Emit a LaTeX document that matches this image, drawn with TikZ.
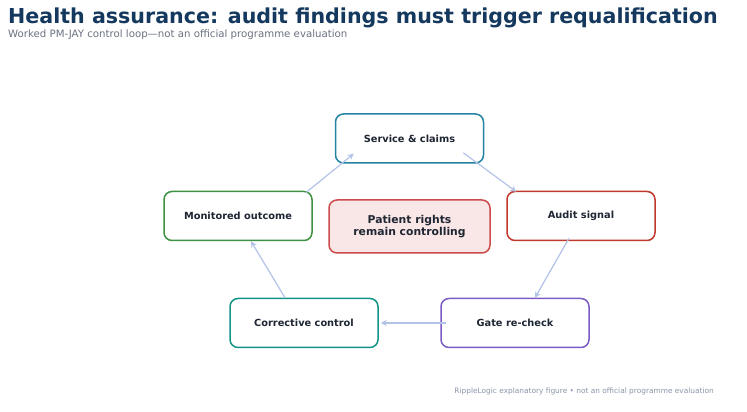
\documentclass[tikz,border=0pt]{standalone}
\usepackage{fontspec}
\setmainfont{DejaVu Sans}
\usetikzlibrary{arrows.meta,calc}
\definecolor{titlec}{HTML}{15395E}
\definecolor{subc}{HTML}{6B7280}
\definecolor{txtc}{HTML}{1F2633}
\definecolor{footc}{HTML}{8A94A8}
\definecolor{arrc}{HTML}{B3C3E8}
\definecolor{svcc}{HTML}{2383A0}
\definecolor{audc}{HTML}{C0392B}
\definecolor{gatec}{HTML}{7B5CC4}
\definecolor{corc}{HTML}{149488}
\definecolor{monc}{HTML}{3F9142}
\definecolor{patc}{HTML}{CC4B4B}
\definecolor{patfill}{HTML}{F9E6E6}
\tikzset{
  stagebox/.style={draw=#1, line width=1.5pt, rounded corners=8pt, fill=white,
    minimum width=148pt, minimum height=49pt, inner sep=0pt,
    font=\fontsize{9.8}{12}\selectfont\bfseries, text=txtc, align=center},
  flow/.style={draw=arrc, line width=1.2pt, -{Stealth[length=6pt,width=6pt]}},
}
\begin{document}
\begin{tikzpicture}[x=1pt,y=1pt]
\useasboundingbox[fill=white] (0,0) rectangle (747,412);
\node[anchor=base west, font=\fontsize{20.6}{24}\selectfont\bfseries, text=titlec, inner sep=0pt] (title) at (8,388.5) {Health assurance: audit findings must trigger requalification};
\node[anchor=base west, font=\fontsize{10.2}{12}\selectfont, text=subc, inner sep=0pt] (sub) at (8,374) {Worked PM-JAY control loop—not an official programme evaluation};

\node[stagebox=svcc] (svc) at (409.5,273.5) {Service \& claims};
\node[stagebox=audc] (aud) at (581,196) {Audit signal};
\node[stagebox=gatec] (gate) at (515,89) {Gate re-check};
\node[stagebox=corc] (cor) at (304,89) {Corrective control};
\node[stagebox=monc] (mon) at (238,196) {Monitored outcome};
\node[draw=patc, line width=1.5pt, rounded corners=8pt, fill=patfill,
  minimum width=161pt, minimum height=53pt, inner sep=0pt,
  font=\fontsize{10.8}{12.5}\selectfont\bfseries, text=txtc, align=center] (pat) at (409.5,185.5) {Patient rights\\remain controlling};

\draw[flow] ($(svc.south east)+(-21,11)$) -- ($(aud.north west)+(10,-1)$);
\draw[flow] ($(aud.south)+(-12,3)$) -- ($(gate.north)+(20,0)$);
\draw[flow] ($(gate.west)+(6,0)$) -- ($(cor.east)+(2,0)$);
\draw[flow] ($(cor.north)+(-19,0)$) -- ($(mon.south)+(13,0)$);
\draw[flow] ($(mon.north east)+(-7,-2)$) -- ($(svc.south west)+(19,10)$);

\node[anchor=base east, font=\fontsize{7.4}{9}\selectfont, text=footc, inner sep=0pt] (foot) at (714,18) {RippleLogic explanatory figure • not an official programme evaluation};
\end{tikzpicture}
\end{document}
